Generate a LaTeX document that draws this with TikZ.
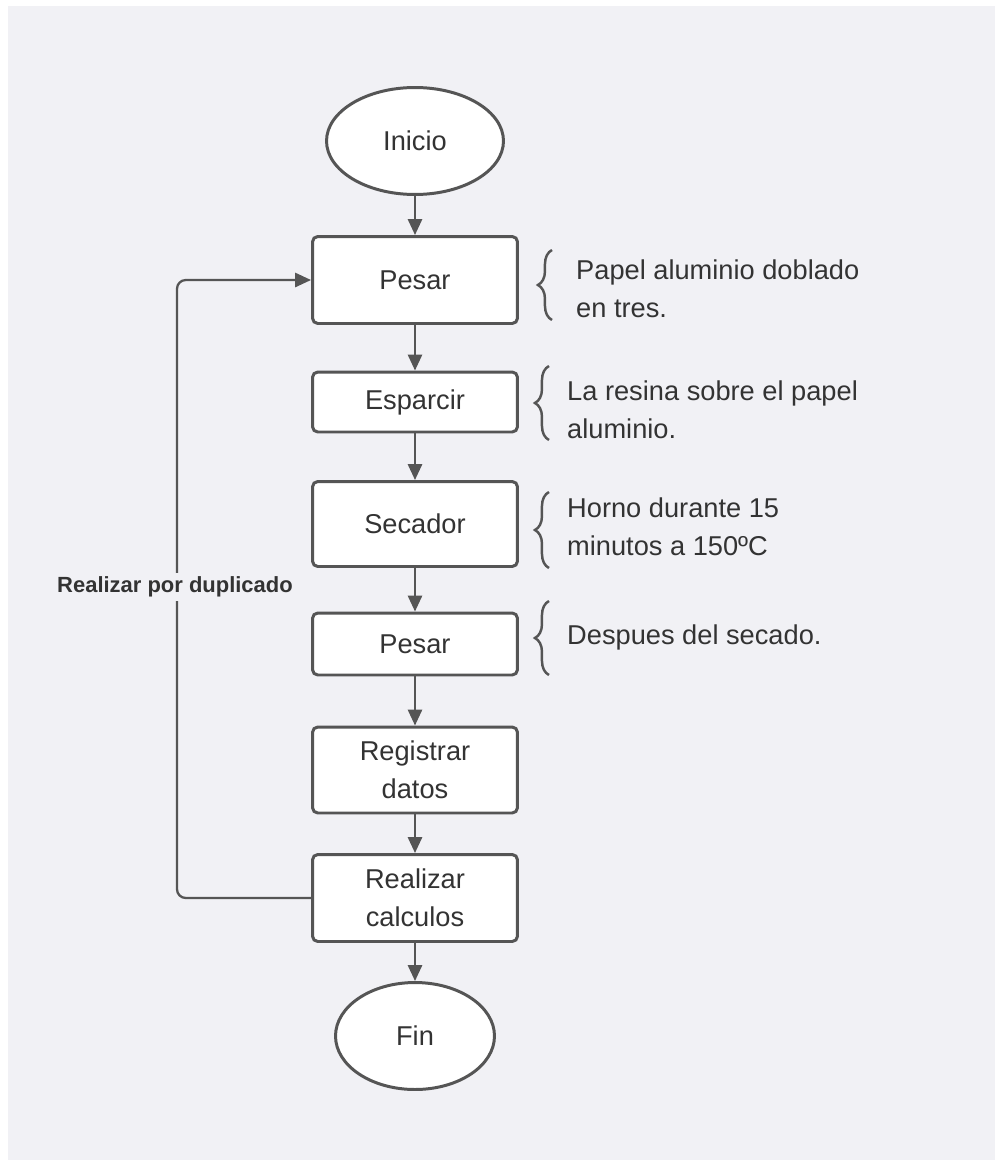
\documentclass[tikz,border=0pt]{standalone}
\usepackage{fontspec}
\setmainfont{Liberation Sans}
\usetikzlibrary{arrows.meta,shapes.geometric,decorations.pathreplacing}
\definecolor{bgcol}{HTML}{F1F1F5}
\definecolor{linecol}{HTML}{555555}
\definecolor{txtcol}{HTML}{333333}
\tikzset{
  stepbox/.style={draw=linecol,line width=1.7pt,rounded corners=3pt,fill=white,
    minimum width=4.1cm,text width=3.8cm,align=center,text=txtcol,
    font=\fontsize{15.5}{21.6}\selectfont},
  terminal/.style={ellipse,draw=linecol,line width=1.7pt,fill=white,text=txtcol,
    font=\fontsize{15.5}{21.6}\selectfont},
  flow/.style={draw=linecol,line width=1.3pt,-{Triangle[width=8pt,length=9pt]}},
  note/.style={anchor=west,align=left,text=txtcol,font=\fontsize{15.5}{21.6}\selectfont},
  bracket/.style={decorate,decoration={brace,amplitude=8pt},draw=linecol,line width=1.4pt}
}
\begin{document}
\begin{tikzpicture}[x=0.02cm,y=-0.02cm]
\useasboundingbox (0,0) rectangle (1002,1163);
\fill[bgcol] (8,6) rectangle (995,1160);
% main column
\node[terminal,minimum width=3.54cm,minimum height=2.14cm] (inicio) at (415,141) {Inicio};
\node[stepbox,minimum height=1.74cm] (pesarA) at (415,280) {Pesar};
\node[stepbox,minimum height=1.2cm] (esparcir) at (415,402) {Esparcir};
\node[stepbox,minimum height=1.7cm] (secador) at (415,524) {Secador};
\node[stepbox,minimum height=1.24cm] (pesarB) at (415,644) {Pesar};
\node[stepbox,minimum height=1.72cm] (registrar) at (415,770) {Registrar\\datos};
\node[stepbox,minimum height=1.74cm] (calculos) at (415,898) {Realizar\\calculos};
\node[terminal,minimum width=3.18cm,minimum height=2.14cm] (fin) at (415,1036) {Fin};
\draw[flow] (inicio) -- (pesarA);
\draw[flow] (pesarA) -- (esparcir);
\draw[flow] (esparcir) -- (secador);
\draw[flow] (secador) -- (pesarB);
\draw[flow] (pesarB) -- (registrar);
\draw[flow] (registrar) -- (calculos);
\draw[flow] (calculos) -- (fin);
% repeat loop
\draw[flow,rounded corners=5pt] (calculos.west) -- (177,898) -- (177,280) -- (pesarA.west);
\node[fill=bgcol,inner sep=2pt,text=txtcol,font=\bfseries\fontsize{12.5}{14}\selectfont] (dup) at (175,587) {Realizar por duplicado};
% notes
\draw[bracket] (552,320) -- (552,250);
\node[note] (notaA) at (570,289) {Papel aluminio doblado\\en tres.};
\draw[bracket] (549,440) -- (549,366);
\node[note] (notaB) at (561,410) {La resina sobre el papel\\aluminio.};
\draw[bracket] (549,568) -- (549,492);
\node[note] (notaC) at (561,527) {Horno durante 15\\minutos a 150ºC};
\draw[bracket] (549,675) -- (549,601);
\node[note] (notaD) at (561,637) {Despues del secado.};
\end{tikzpicture}
\end{document}
